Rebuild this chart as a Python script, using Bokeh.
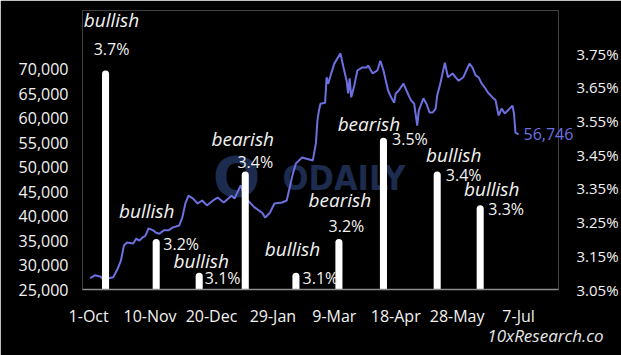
import pandas as pd
from bokeh.plotting import figure
from bokeh.core.properties import value
from bokeh.models import (ColumnDataSource, Range1d, LinearAxis, FixedTicker, Title,
                          NumeralTickFormatter, CustomJSTickFormatter, LabelSet, Label)
from bokeh.embed import file_html
from bokeh.resources import INLINE

# ---------------- data ----------------
start_date = "2023-10-01"
view_start = "2023-09-27"
view_end = "2024-08-02"

price_dates = [
    "2023-10-02", "2023-10-05", "2023-10-09", "2023-10-11", "2023-10-14", "2023-10-17", "2023-10-20",
    "2023-10-22", "2023-10-24", "2023-10-26", "2023-10-30",
    "2023-11-01", "2023-11-03", "2023-11-05", "2023-11-07", "2023-11-09", "2023-11-12", "2023-11-14",
    "2023-11-16", "2023-11-19", "2023-11-22", "2023-11-25", "2023-11-29",
    "2023-12-01", "2023-12-03", "2023-12-05", "2023-12-08", "2023-12-11", "2023-12-14", "2023-12-17",
    "2023-12-21", "2023-12-24", "2023-12-28",
    "2024-01-02", "2024-01-04", "2024-01-08", "2024-01-11", "2024-01-14", "2024-01-17", "2024-01-22",
    "2024-01-24", "2024-01-27", "2024-01-30",
    "2024-02-04", "2024-02-07", "2024-02-11", "2024-02-13", "2024-02-17", "2024-02-24", "2024-02-26",
    "2024-02-27", "2024-02-28", "2024-02-29",
    "2024-03-03", "2024-03-04", "2024-03-05", "2024-03-07", "2024-03-09", "2024-03-13", "2024-03-15",
    "2024-03-17", "2024-03-18", "2024-03-19", "2024-03-20", "2024-03-22", "2024-03-24", "2024-03-27",
    "2024-03-30", "2024-03-31",
    "2024-04-03", "2024-04-06", "2024-04-08", "2024-04-10", "2024-04-13", "2024-04-15", "2024-04-17",
    "2024-04-18", "2024-04-20", "2024-04-23", "2024-04-25", "2024-04-27", "2024-04-28", "2024-04-30",
    "2024-05-02", "2024-05-03", "2024-05-06", "2024-05-08", "2024-05-10", "2024-05-12", "2024-05-14",
    "2024-05-15", "2024-05-17", "2024-05-20", "2024-05-22", "2024-05-25", "2024-05-27", "2024-05-29",
    "2024-06-01", "2024-06-03", "2024-06-05", "2024-06-07", "2024-06-09", "2024-06-11", "2024-06-13",
    "2024-06-15", "2024-06-17", "2024-06-20", "2024-06-22", "2024-06-24", "2024-06-26", "2024-06-28",
    "2024-06-30",
    "2024-07-03", "2024-07-04", "2024-07-05", "2024-07-07",
]
price_values = [
    27300, 27900, 27600, 26800, 27300, 27500, 29300, 30900, 34000, 34600, 34400,
    35400, 35000, 35600, 36000, 37500, 37100, 36600, 36400, 37100, 37100, 37700, 38100,
    39700, 42600, 44200, 43600, 42600, 43200, 42200, 43200, 43800, 42800,
    44200, 43600, 46300, 43800, 42800, 41800, 40700, 39700, 40700, 42600,
    42800, 43200, 48700, 50800, 52000, 51400, 54900, 59600, 61600, 63000,
    63200, 68400, 67100, 69200, 71200, 73300, 70400, 67700, 65100, 68200, 64300, 66700, 69800,
    70400, 70400, 70800,
    69200, 69800, 71800, 69800, 65700, 64300, 63200, 65100, 65700, 67100, 65700, 64300, 63700, 63000,
    58500, 61600, 64100, 63000, 61200, 61200, 62000, 64700, 67100, 71400, 68400, 69200, 68400, 67700,
    68400, 69800, 71200, 70400, 68800, 68400, 67100, 66300, 65300, 64300, 63700, 60600, 62000, 61000,
    61600,
    62600, 61000, 57100, 56746,
]

cpi_dates = ["2023-10-12", "2023-11-14", "2023-12-12", "2024-01-11", "2024-02-13",
             "2024-03-12", "2024-04-10", "2024-05-15", "2024-06-12"]
cpi_values = [3.7, 3.2, 3.1, 3.4, 3.1, 3.2, 3.5, 3.4, 3.3]
cpi_labels = ["3.7%", "3.2%", "3.1%", "3.4%", "3.1%", "3.2%", "3.5%", "3.4%", "3.3%"]
cpi_sentiment = ["bullish", "bullish", "bullish", "bearish", "bullish",
                 "bearish", "bearish", "bullish", "bullish"]

x_tick_dates = ["2023-10-01", "2023-11-10", "2023-12-20", "2024-01-29",
                "2024-03-09", "2024-04-18", "2024-05-28", "2024-07-07"]
x_tick_labels = ["1-Oct", "10-Nov", "20-Dec", "29-Jan", "9-Mar", "18-Apr", "28-May", "7-Jul"]

price_ticks = [25000, 30000, 35000, 40000, 45000, 50000, 55000, 60000, 65000, 70000]
cpi_ticks = [3.05, 3.15, 3.25, 3.35, 3.45, 3.55, 3.65, 3.75]

source_note = "10xResearch.co"
watermark = "ODAILY"

# ---------------- layout (screen-pixel offsets of labels, not data) ----------------
mood_dx = [6, -9.5, 2, -2.5, -3.5, 1, -14.5, 16.5, 11.5]
mood_dy = [50, 28, 12, 33, 24, 39, 14, 17, 16]
pct_dx = [6, 25, 23.5, 10, 24.5, 7.5, 26.5, 26.5, 26]
pct_dy = [21, -5, -5, 10, -5, 13, -1, -3, -4]

FONT = "Open Sans"
LINE_COLOR = "#6d70e0"
TEXT_COLOR = "#f2f2f2"
WM_COLOR = "#1c2b4e"

origin = pd.Timestamp(start_date)


def to_days(lst):
    return [(pd.Timestamp(d) - origin).days for d in lst]


price_x = to_days(price_dates)
cpi_x = to_days(cpi_dates)
tick_x = to_days(x_tick_dates)
x_start = to_days([view_start])[0]
x_end = to_days([view_end])[0]

p = figure(width=621, height=355, output_backend="svg", toolbar_location=None,
           x_range=Range1d(x_start, x_end), y_range=Range1d(25000, 82067),
           min_border_left=82, min_border_right=63, min_border_top=10, min_border_bottom=66)
p.extra_y_ranges = {"cpi": Range1d(3.05, 3.8777)}

p.background_fill_color = "black"
p.border_fill_color = "black"
p.outline_line_color = None
p.xgrid.visible = False
p.ygrid.visible = False

# watermark
p.add_layout(Label(x=154, y=113, x_units="screen", y_units="screen", text="O",
                   text_font="DejaVu Sans", text_font_style="bold", text_font_size="56px",
                   text_color=WM_COLOR, text_baseline="middle", text_align="center", level="underlay"))
p.add_layout(Label(x=200, y=112, x_units="screen", y_units="screen", text=watermark,
                   text_font="DejaVu Sans Condensed", text_font_style="bold", text_font_size="34px",
                   text_color=WM_COLOR, text_baseline="middle", level="underlay"))

# price line
p.line(price_x, price_values, line_color=LINE_COLOR, line_width=2)

# CPI bars
cpi_src = ColumnDataSource(dict(x=cpi_x, top=cpi_values, pct=cpi_labels, mood=cpi_sentiment,
                                mdx=mood_dx, mdy=mood_dy, pdx=pct_dx, pdy=pct_dy))
p.vbar(x="x", top="top", bottom=3.05, width=4.6, source=cpi_src, y_range_name="cpi",
       fill_color="white", line_color=None, border_radius=(4, 4, 0, 0))

p.add_layout(LabelSet(x="x", y="top", text="mood", x_offset="mdx", y_offset="mdy", source=cpi_src,
                      y_range_name="cpi", text_font=value(FONT), text_font_style="italic",
                      text_font_size="19px", text_color=TEXT_COLOR,
                      text_align="center", text_baseline="middle"))
p.add_layout(LabelSet(x="x", y="top", text="pct", x_offset="pdx", y_offset="pdy", source=cpi_src,
                      y_range_name="cpi", text_font=value(FONT), text_font_size="16px",
                      text_color=TEXT_COLOR, text_align="center", text_baseline="middle"))

# source note (as a title below the x axis)
note = Title(text=source_note, align="right", offset=-45, standoff=-16,
             text_font=FONT, text_font_style="italic", text_font_size="17px",
             text_color="#e6e6e6")
p.add_layout(note, "below")

# axes
xa = p.xaxis[0]
xa.ticker = FixedTicker(ticks=tick_x)
xa.major_label_overrides = {int(t): lab for t, lab in zip(tick_x, x_tick_labels)}
xa.axis_line_color = "#8c8c8c"
xa.axis_line_width = 1.5
xa.major_tick_line_color = None
xa.minor_tick_line_color = None
xa.major_tick_out = 0
xa.major_label_standoff = 15
xa.major_label_text_color = TEXT_COLOR
xa.major_label_text_font = FONT
xa.major_label_text_font_size = "16px"

ya = p.yaxis[0]
ya.ticker = FixedTicker(ticks=price_ticks)
ya.formatter = NumeralTickFormatter(format="0,0")
ya.axis_line_color = None
ya.major_tick_line_color = None
ya.minor_tick_line_color = None
ya.major_tick_out = 0
ya.major_label_standoff = 14
ya.major_label_text_color = TEXT_COLOR
ya.major_label_text_font = FONT
ya.major_label_text_font_size = "16px"

# last-price label, drawn as a one-tick axis so it is not clipped by the frame
la = LinearAxis(ticker=FixedTicker(ticks=[price_values[-1]]),
                formatter=NumeralTickFormatter(format="0,0"))
la.axis_line_color = None
la.major_tick_line_color = None
la.minor_tick_line_color = None
la.major_tick_out = 0
la.major_tick_in = 0
la.major_label_standoff = -35
la.major_label_text_color = LINE_COLOR
la.major_label_text_font = FONT
la.major_label_text_font_size = "16px"
p.add_layout(la, "right")

ra = LinearAxis(y_range_name="cpi", ticker=FixedTicker(ticks=cpi_ticks),
                formatter=CustomJSTickFormatter(code="return tick.toFixed(2) + '%';"))
ra.axis_line_color = None
ra.major_tick_line_color = None
ra.minor_tick_line_color = None
ra.major_tick_out = 0
ra.major_tick_in = 0
ra.major_label_standoff = 0
ra.major_label_text_color = TEXT_COLOR
ra.major_label_text_font = FONT
ra.major_label_text_font_size = "15px"
p.add_layout(ra, "right")

open("out.html", "w").write(file_html(p, INLINE))
